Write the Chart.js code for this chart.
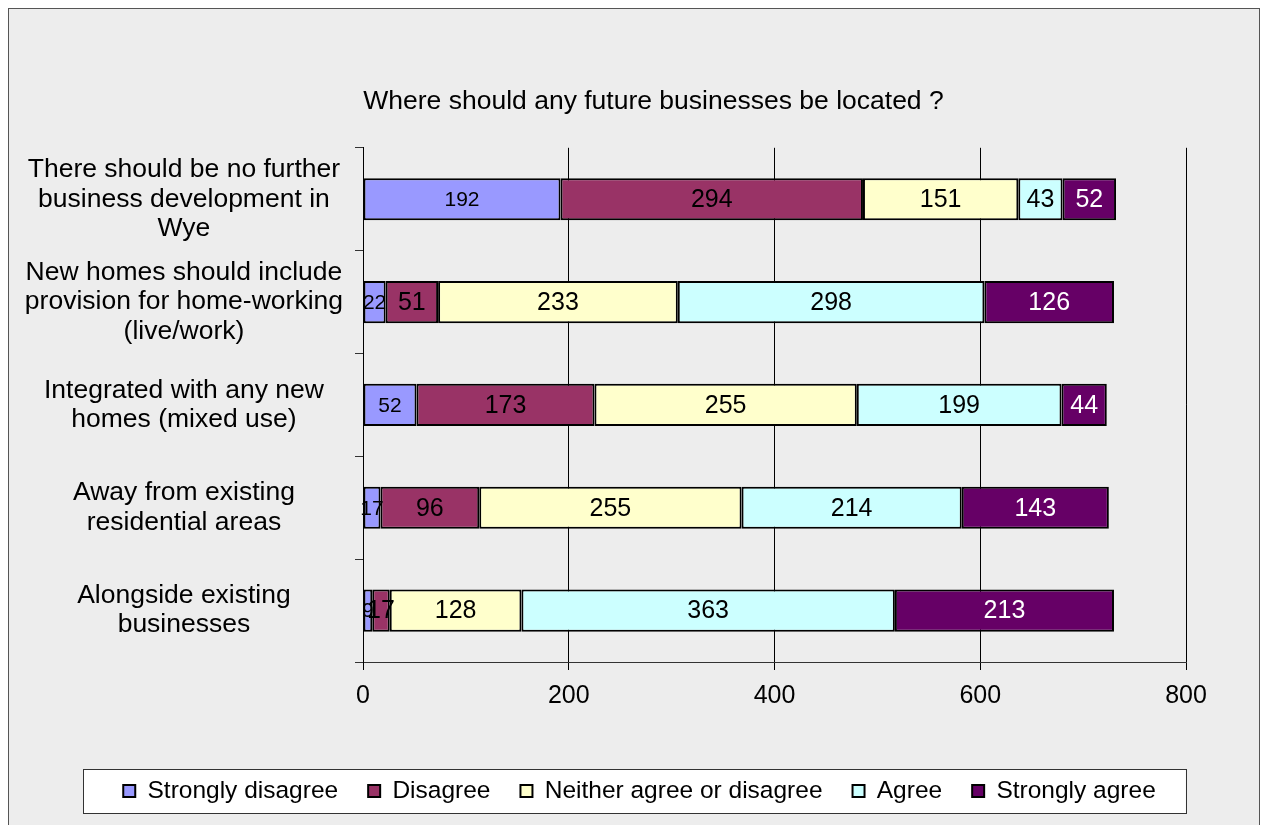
<!DOCTYPE html>
<html>
<head>
<meta charset="utf-8">
<script src="https://cdn.jsdelivr.net/npm/chart.js@4.4.1/dist/chart.umd.min.js"></script>
<style>
  html, body { margin: 0; padding: 0; background: #fff; overflow: hidden; }
  #frame {
    position: absolute; left: 8px; top: 8px; width: 1250px; height: 900px;
    background: #ededed; border: 1px solid #555;
  }
  #wrap { position: absolute; left: 0; top: 0; width: 1249px; height: 816px; }
</style>
</head>
<body>
<div id="frame">
  <div id="wrap"><canvas id="myChart"></canvas></div>
</div>
<script>
// categories (top to bottom)
let categories = [
  ["There should be no further", "business development in", "Wye"],
  ["New homes should include", "provision for home-working", "(live/work)"],
  ["Integrated with any new", "homes (mixed use)"],
  ["Away from existing", "residential areas"],
  ["Alongside existing", "businesses"],
];

// series values, one per category
let stronglyDisagree = [192, 22, 52, 17, 9];
let disagree = [294, 51, 173, 96, 17];
let neither = [151, 233, 255, 255, 128];
let agree = [43, 298, 199, 214, 363];
let stronglyAgree = [52, 126, 44, 143, 213];

let seriesNames = ["Strongly disagree", "Disagree", "Neither agree or disagree", "Agree", "Strongly agree"];
let seriesColors = ["#9999ff", "#993366", "#ffffcc", "#ccffff", "#660066"];
let labelColors = ["#000", "#000", "#000", "#000", "#fff"];
let labelSizes = [21, 25, 25, 25, 25];

let xTicks = [0, 200, 400, 600, 800];

const FONT = "'Liberation Sans', Arial, sans-serif";
Chart.defaults.font.family = FONT;
Chart.defaults.color = "#000";

// nudge title and legend sideways so they sit where the original has them
const shiftBlocks = {
  id: "shiftBlocks",
  afterLayout(chart) {
    const t = chart.titleBlock;
    if (t) { t.left += 56; t.right += 56; }
    const lg = chart.legend;
    if (lg) { lg.left += 42; lg.right += 42; }
  }
};

// white box with border behind the legend
const legendBox = {
  id: "legendBox",
  beforeDraw(chart) {
    const lg = chart.legend;
    if (!lg || !lg.legendHitBoxes.length) return;
    const boxes = lg.legendHitBoxes;
    let left = Math.min(...boxes.map(b => b.left));
    let right = Math.max(...boxes.map(b => b.left + b.width));
    let mid = boxes[0].top + boxes[0].height / 2;
    const c = chart.ctx;
    c.save();
    c.fillStyle = "#fff";
    c.strokeStyle = "#333";
    c.lineWidth = 1;
    c.fillRect(left - 40, mid - 22, right - left + 70, 44);
    c.strokeRect(Math.round(left - 40) + 0.5, Math.round(mid - 22) + 0.5, Math.round(right - left + 70), 44);
    c.restore();
  }
};

// value labels centred in each segment
const barLabels = {
  id: "barLabels",
  afterDatasetsDraw(chart) {
    const c = chart.ctx;
    chart.data.datasets.forEach((ds, i) => {
      const meta = chart.getDatasetMeta(i);
      meta.data.forEach((bar, j) => {
        c.save();
        c.font = labelSizes[i] + "px " + FONT;
        c.fillStyle = labelColors[i];
        c.textAlign = "center";
        c.textBaseline = "middle";
        c.fillText(String(ds.data[j]), (bar.x + bar.base) / 2, bar.y + 1);
        c.restore();
      });
    });
  }
};

let ctx = document.getElementById("myChart").getContext("2d");
let chart = new Chart(ctx, {
  type: "bar",
  data: {
    labels: categories,
    datasets: [stronglyDisagree, disagree, neither, agree, stronglyAgree].map((d, i) => ({
      label: seriesNames[i],
      data: d,
      backgroundColor: seriesColors[i],
      borderColor: "#000",
      borderWidth: 2,
      borderSkipped: false,
      barPercentage: 0.41,
      categoryPercentage: 1,
    })),
  },
  options: {
    indexAxis: "y",
    responsive: true,
    maintainAspectRatio: false,
    animation: false,
    layout: { padding: { left: 0, right: 72, top: 0, bottom: 11.75 } },
    scales: {
      x: {
        stacked: true,
        min: 0,
        max: 800,
        afterBuildTicks: (scale) => { scale.ticks = xTicks.map(v => ({ value: v })); },
        afterFit: (scale) => { scale.height = 86.75; },
        grid: { color: "#000", lineWidth: 1, tickLength: 8 },
        border: { color: "#333", width: 1 },
        ticks: { font: { size: 25 }, color: "#000", padding: 11 },
      },
      y: {
        stacked: true,
        afterFit: (scale) => { scale.width = 354; },
        grid: { drawOnChartArea: false, drawTicks: true, tickLength: 8, color: "#333" },
        border: { color: "#000", width: 1 },
        ticks: { font: { size: 26.5, lineHeight: 1.1 }, color: "#000", crossAlign: "center", padding: 12 },
      },
    },
    plugins: {
      title: {
        display: true,
        text: "Where should any future businesses be located ?",
        font: { size: 26.5, weight: "normal" },
        color: "#000",
        padding: { top: 77, bottom: 30 },
      },
      legend: {
        position: "bottom",
        labels: {
          font: { size: 24.5 },
          color: "#000",
          boxWidth: 12,
          boxHeight: 12,
          padding: 30,
        },
      },
      tooltip: { enabled: false },
    },
  },
  plugins: [shiftBlocks, legendBox, barLabels],
});
</script>
</body>
</html>
